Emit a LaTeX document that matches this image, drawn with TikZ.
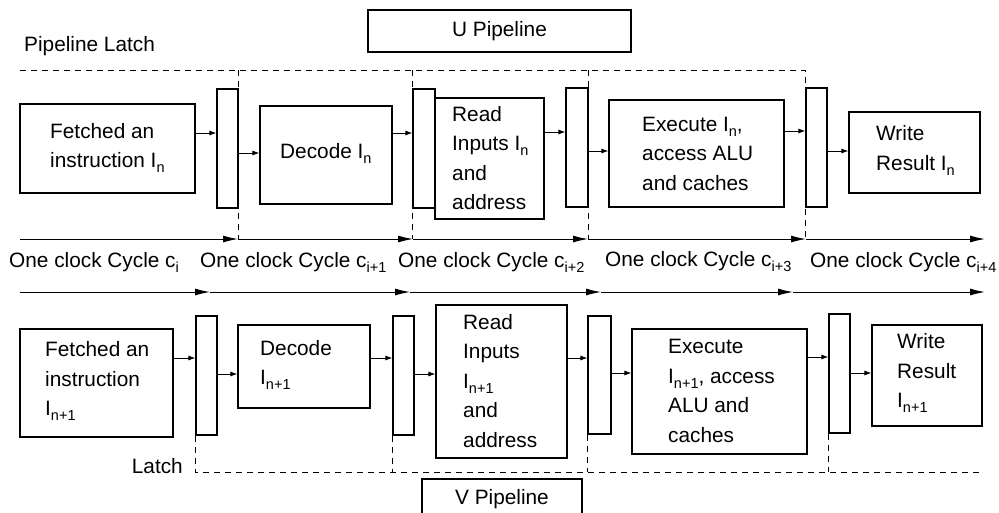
\documentclass[tikz,border=0pt]{standalone}
\usepackage{fontspec}
\setmainfont{Liberation Sans}
\usetikzlibrary{arrows.meta,calc}
\newcommand\sbs[1]{\raisebox{-5pt}{\fontsize{14.5}{14.5}\selectfont #1}}
\newcommand\conn[3]{\path ([yshift=#3]#1.east) coordinate (cc); \draw[arr] (cc) -- (cc -| #2.west);}
\begin{document}
\begin{tikzpicture}[x=1pt,y=-1pt,
 every node/.style={font=\fontsize{20.8}{29.5}\selectfont},
 blk/.style={draw, line width=1.1pt, inner sep=0pt},
 latchbox/.style={draw, line width=1.1pt, inner sep=0pt, minimum width=21pt, minimum height=119pt},
 txt/.style={align=left, inner sep=0pt, anchor=west},
 arr/.style={line width=0.9pt, -{Latex[length=7pt,width=5pt]}},
 clk/.style={line width=1pt, -{Latex[length=15pt,width=7pt]}},
 dsh/.style={line width=0.9pt, dash pattern=on 6pt off 5pt}]
\useasboundingbox (0,0) rectangle (999,512);

% titles
\node[blk, minimum width=263pt, minimum height=42pt] (uP) at (499.5,31) {U Pipeline};
\node[txt] (plLbl) at (24,46) {Pipeline Latch};
\node[inner sep=0pt, anchor=east] (latLbl) at (183,466) {Latch};
\node[blk, minimum width=160pt, minimum height=40pt] (vP) at (502,499) {V Pipeline};

% top row boxes
\node[blk, minimum width=175pt, minimum height=89pt] (fA) at (107.5,148.5) {};
\node[blk, minimum width=132pt, minimum height=98pt] (dA) at (326,155) {};
\node[blk, minimum width=109pt, minimum height=121pt] (rA) at (489.5,158.5) {};
\node[blk, minimum width=175pt, minimum height=107pt] (eA) at (696.5,153.5) {};
\node[blk, minimum width=131pt, minimum height=81pt] (wA) at (914.5,152.5) {};
\node[latchbox] (L1A) at (227.5,148.5) {};
\node[latchbox, minimum width=22pt] (L2A) at (424,148.5) {};
\node[latchbox, minimum width=22pt] (L3A) at (577,147.5) {};
\node[latchbox] (L4A) at (816.5,147.5) {};

\node[txt] (fAt) at (50,148) {Fetched an\\instruction I\sbs{n}};
\node[txt] (dAt) at (280,153) {Decode I\sbs{n}};
\node[txt] (rAt) at (452,158) {Read\\Inputs I\sbs{n}\\and\\address};
\node[txt] (eAt) at (642,153.5) {Execute I\sbs{n},\\access ALU\\and caches};
\node[txt] (wAt) at (876,150.5) {Write\\Result I\sbs{n}};

% bottom row boxes
\node[blk, minimum width=153pt, minimum height=108pt] (fB) at (96.5,383) {};
\node[blk, minimum width=132pt, minimum height=83pt] (dB) at (304,366.5) {};
\node[blk, minimum width=131pt, minimum height=153pt] (rB) at (501.5,381.5) {};
\node[blk, minimum width=175pt, minimum height=125pt] (eB) at (719.5,391.5) {};
\node[blk, minimum width=110pt, minimum height=101pt] (wB) at (927,375.5) {};
\node[latchbox] (L1B) at (206.5,375.5) {};
\node[latchbox] (L2B) at (403.5,375.5) {};
\node[latchbox, minimum width=23pt, minimum height=118pt] (L3B) at (599.5,375) {};
\node[latchbox] (L4B) at (839.5,373.5) {};

\node[txt] (fBt) at (45,381) {Fetched an\\instruction\\I\sbs{n+1}};
\node[txt] (dBt) at (260,365) {Decode\\I\sbs{n+1}};
\node[txt] (rBt) at (463,381) {Read\\Inputs\\I\sbs{n+1}\\and\\address};
\node[txt] (eBt) at (668,391) {Execute\\I\sbs{n+1}, access\\ALU and\\caches};
\node[txt] (wBt) at (897,373) {Write\\Result\\I\sbs{n+1}};

% connectors top
\conn{fA}{L1A}{15.5pt}
\conn{L1A}{dA}{-4.5pt}
\conn{dA}{L2A}{22pt}
\conn{rA}{L3A}{26.5pt}
\conn{L3A}{eA}{-3.5pt}
\conn{eA}{L4A}{22.5pt}
\conn{L4A}{wA}{-3.5pt}
% connectors bottom
\conn{fB}{L1B}{25pt}
\conn{L1B}{dB}{1.5pt}
\conn{dB}{L2B}{8.5pt}
\conn{L2B}{rB}{1.5pt}
\conn{rB}{L3B}{23.5pt}
\conn{L3B}{eB}{2pt}
\conn{eB}{L4B}{34.5pt}
\conn{L4B}{wB}{0.5pt}

% clock lines
\coordinate (ta0) at (20,239);
\coordinate (ta1) at (238,239);
\coordinate (ta2) at (413,239);
\coordinate (ta3) at (588,239);
\coordinate (ta4) at (806,239);
\coordinate (ta5) at (985,239);
\draw[clk] (ta0) -- (ta1);
\draw[clk] (ta1) -- (ta2);
\draw[clk] (ta2) -- (ta3);
\draw[clk] (ta3) -- (ta4);
\draw[clk] (ta4) -- (ta5);
\coordinate (tb0) at (20,292);
\coordinate (tb1) at (210,292);
\coordinate (tb2) at (410,292);
\coordinate (tb3) at (601,292);
\coordinate (tb4) at (793,292);
\coordinate (tb5) at (985,292);
\draw[clk] (tb0) -- (tb1);
\draw[clk] (tb1) -- (tb2);
\draw[clk] (tb2) -- (tb3);
\draw[clk] (tb3) -- (tb4);
\draw[clk] (tb4) -- (tb5);

% cycle labels
\node[txt] (c0) at (9,262) {One clock Cycle c\sbs{i}};
\node[txt] (c1) at (200,262) {One clock Cycle c\sbs{i+1}};
\node[txt] (c2) at (398,262) {One clock Cycle c\sbs{i+2}};
\node[txt] (c3) at (605,262) {One clock Cycle c\sbs{i+3}};
\node[txt] (c4) at (810,262) {One clock Cycle c\sbs{i+4}};

% dashed latch frames top
\coordinate (d0) at (20,70);
\draw[dsh] (d0) -- (L4A.west |- d0) -- (L4A.west |- ta0);
\draw[dsh] (L1A.east |- d0) -- (L1A.east |- ta0);
\draw[dsh] (L2A.west |- d0) -- (L2A.west |- ta0);
\draw[dsh] (L3A.east |- d0) -- (L3A.east |- ta0);
% dashed latch frames bottom
\coordinate (bd) at (982,472);
\draw[dsh] (L1B.south west) -- (L1B.south west |- bd) -- (bd);
\draw[dsh] (L2B.south west) -- (L2B.south west |- bd);
\draw[dsh] (L3B.south west) -- (L3B.south west |- bd);
\draw[dsh] (L4B.south west) -- (L4B.south west |- bd);
\end{tikzpicture}
\end{document}
